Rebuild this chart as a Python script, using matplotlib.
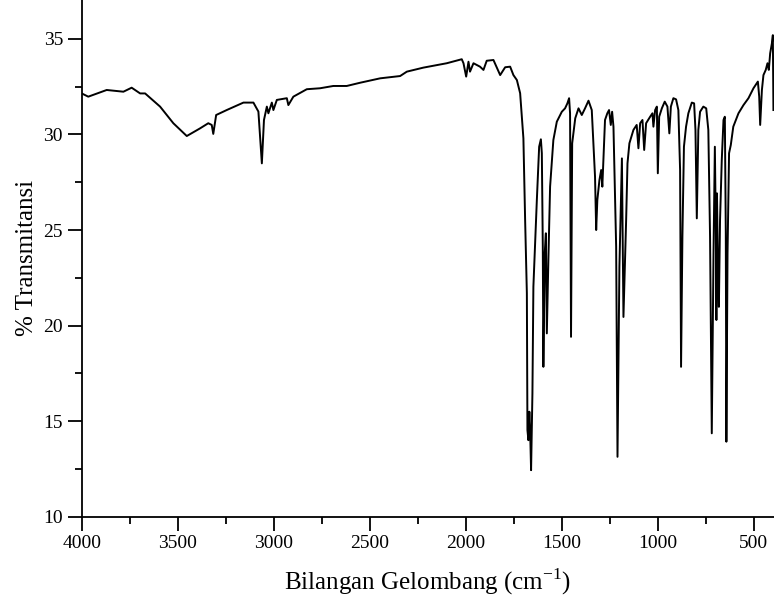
import matplotlib.pyplot as plt
from matplotlib.ticker import MultipleLocator

plt.rcParams['font.family'] = ['Liberation Serif', 'DejaVu Serif']
plt.rcParams['axes.unicode_minus'] = False

# FTIR spectrum (wavenumber in cm-1, % transmittance)
wavenumber = [
    4000, 3966, 3870, 3783, 3740, 3696, 3670, 3592, 3523, 3453, 3384, 3341,
    3323, 3315, 3300, 3245, 3158, 3106, 3080, 3062, 3051, 3036, 3028, 3010,
    3002, 2984, 2932, 2924, 2898, 2828, 2759, 2690, 2620, 2550, 2446, 2342,
    2307, 2221, 2099, 2021, 2012, 1998, 1986, 1978, 1960, 1926, 1908, 1891,
    1856, 1821, 1795, 1769, 1752, 1734, 1717, 1700, 1691, 1682, 1679, 1674,
    1669, 1665, 1660, 1653, 1648, 1630, 1618, 1609, 1604, 1599, 1596, 1589,
    1583, 1578, 1570, 1561, 1544, 1526, 1500, 1483, 1471, 1462, 1457, 1452,
    1446, 1430, 1413, 1396, 1379, 1361, 1344, 1327, 1321, 1315, 1304, 1295,
    1289, 1275, 1263, 1254, 1245, 1238, 1231, 1217, 1210, 1200, 1187, 1179,
    1165, 1158, 1148, 1127, 1110, 1101, 1092, 1080, 1071, 1061, 1040, 1028,
    1023, 1014, 1005, 1000, 993, 979, 964, 950, 940, 932, 919, 905, 893, 884,
    879, 872, 864, 853, 841, 823, 811, 804, 797, 789, 780, 763, 748, 737, 728,
    719, 710, 703, 698, 695, 692, 686, 682, 676, 667, 658, 651, 646, 643, 637,
    629, 620, 607, 580, 554, 528, 502, 479, 472, 467, 458, 450, 438, 429, 422,
    415, 406, 401, 398,
]
transmittance = [
    32.15, 31.98, 32.33, 32.24, 32.45, 32.15, 32.15, 31.46, 30.59, 29.92, 30.32, 30.59,
    30.50, 30.03, 31.02, 31.28, 31.67, 31.67, 31.20, 28.49, 30.76, 31.46, 31.11, 31.67,
    31.28, 31.81, 31.90, 31.54, 31.98, 32.37, 32.42, 32.54, 32.54, 32.71, 32.94, 33.06,
    33.29, 33.50, 33.73, 33.94, 33.73, 33.03, 33.81, 33.29, 33.73, 33.55, 33.38, 33.86,
    33.90, 33.11, 33.52, 33.55, 33.11, 32.85, 32.16, 29.80, 25.52, 21.69, 14.53, 14.00,
    15.49, 14.53, 12.43, 16.45, 22.03, 26.57, 29.36, 29.75, 29.02, 24.13, 17.84, 23.78,
    24.83, 19.59, 23.43, 27.27, 29.71, 30.67, 31.19, 31.37, 31.63, 31.90, 31.11, 19.41,
    29.54, 30.85, 31.37, 31.02, 31.37, 31.77, 31.28, 27.79, 25.00, 26.57, 27.62, 28.14,
    27.27, 30.76, 31.11, 31.28, 30.50, 31.19, 30.41, 24.13, 13.13, 23.08, 28.75, 20.45,
    25.52, 28.49, 29.54, 30.24, 30.50, 29.28, 30.59, 30.76, 29.19, 30.59, 30.93, 31.11,
    30.41, 31.28, 31.46, 27.97, 30.93, 31.37, 31.72, 31.46, 30.06, 31.46, 31.90, 31.84, 31.28, 28.14,
    17.84, 24.65, 29.36, 30.41, 31.11, 31.67, 31.63, 30.24, 25.61, 30.24, 31.19, 31.46, 31.37, 30.24, 24.65,
    14.36, 23.78, 29.36, 25.17, 20.29, 26.92, 22.38, 20.98, 25.52, 28.66, 30.76, 30.93, 24.83, 13.92, 23.78,
    29.02, 29.45, 30.41, 31.11, 31.54, 31.90, 32.42, 32.77, 31.98, 30.50, 32.33, 33.11, 33.38, 33.73, 33.38,
    34.25, 34.77, 35.20, 31.28,
]

fig = plt.figure(figsize=(7.74, 6), dpi=100)
ax = fig.add_axes([0.1056, 0.139, 1 - 0.1056, 0.861])

ax.plot(wavenumber, transmittance, color='black', linewidth=1.4)

ax.set_xlim(4000, 395)
ax.set_ylim(10, 37.04)
ax.xaxis.set_major_locator(MultipleLocator(500))
ax.xaxis.set_minor_locator(MultipleLocator(250))
ax.yaxis.set_major_locator(MultipleLocator(5))
ax.yaxis.set_minor_locator(MultipleLocator(2.5))
ax.tick_params(which='major', direction='out', length=10, width=1.3, labelsize=14)
ax.tick_params(which='minor', direction='out', length=5, width=1.3)

ax.spines['top'].set_visible(False)
ax.spines['right'].set_visible(False)
ax.spines['left'].set_linewidth(1.3)
ax.spines['bottom'].set_linewidth(1.3)

ax.set_xlabel('Bilangan Gelombang (cm$^{\\mathregular{-1}}$)', fontsize=18, labelpad=10)
ax.set_ylabel('% Transmitansi', fontsize=18, labelpad=4)

fig.savefig('out.png', dpi=100)
